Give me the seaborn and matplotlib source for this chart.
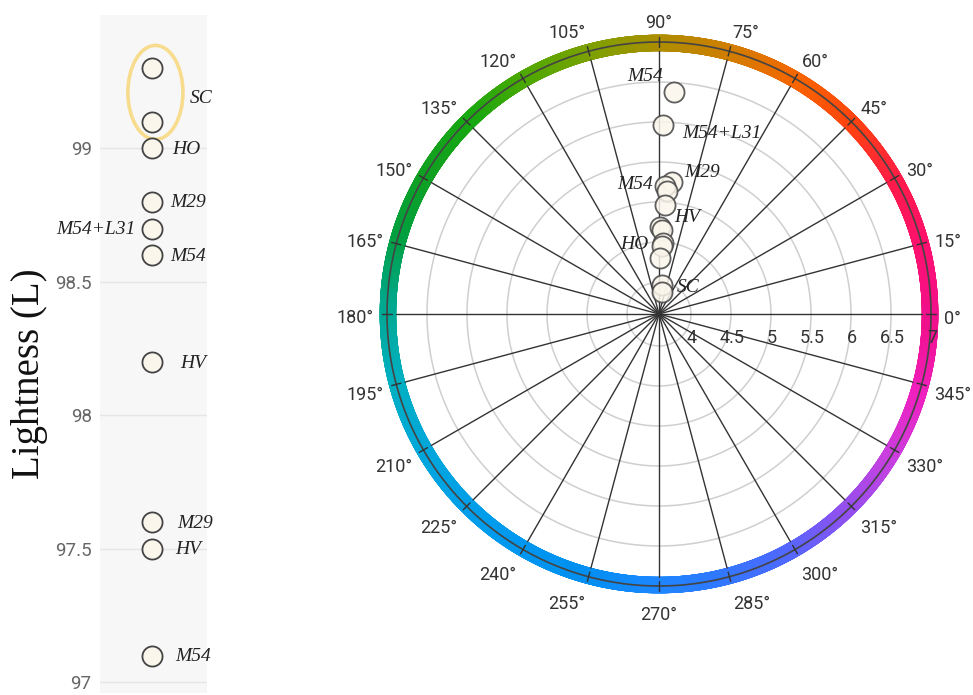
import numpy as np
import pandas as pd
import matplotlib
matplotlib.use("Agg")
import matplotlib.pyplot as plt
import seaborn as sns
from matplotlib.colors import LinearSegmentedColormap
from matplotlib.collections import LineCollection
from matplotlib.patches import Ellipse

# ---- Lightness (L) per sample ----
sample_names = ["SC", "SC", "HO", "M29", "M54+L31", "M54", "HV", "M29", "HV", "M54"]
lightness = [99.3, 99.1, 99.0, 98.8, 98.7, 98.6, 98.2, 97.6, 97.5, 97.1]
lightness_ticks = [97, 97.5, 98, 98.5, 99]
lightness_tick_labels = ["97", "97.5", "98", "98.5", "99"]

# ---- Hue angle (deg) and chroma per measurement ----
hue_angles = [86.1, 88.7, 84.5, 87.3, 86.5, 86.8, 89.3, 88.2, 86.5, 87.8, 89.0, 84.7, 83.0]
chroma = [6.385, 5.96, 5.26, 5.20, 5.14, 4.96, 4.69, 4.65, 4.49, 4.45, 4.30, 3.96, 3.88]
chroma_ticks = [4, 4.5, 5, 5.5, 6, 6.5, 7]
angle_ticks = list(range(0, 360, 15))

# hue wheel colour stops, one per 15 degrees
ring_colors = ["#f0108c", "#ff1070", "#ff1a4a", "#ff4010", "#f86400", "#d47c00",
               "#b08c00", "#80a000", "#50a800", "#18a810", "#10a020", "#00a040",
               "#00a890", "#00b0c0", "#00a8d8", "#00a0e8", "#0098f0", "#0090f0",
               "#1a88ff", "#3078ff", "#5068ff", "#9050f0", "#c840e0", "#f020c0",
               "#f0108c"]

sns.set_theme(style="white")
plt.rcParams["font.family"] = ["Roboto", "DejaVu Sans"]

W, H = 973, 695
fig = plt.figure(figsize=(W / 100, H / 100), dpi=100)

def frac(x0, y0, x1, y1):
    return [x0 / W, 1 - y1 / H, (x1 - x0) / W, (y1 - y0) / H]

label_font = dict(family=["Liberation Serif", "DejaVu Serif"], style="italic",
                  fontsize=14, color="#222222")
marker_kw = dict(s=210, color="#fbf6ec", edgecolor="#444444", linewidth=1.3,
                 legend=False, zorder=4)

# ================= Lightness strip =================
lax = fig.add_axes(frac(100, 15, 207, 693))
strip = pd.DataFrame({"sample": sample_names, "L": lightness, "x": 0.0})
sns.scatterplot(data=strip, x="x", y="L", ax=lax, **marker_kw)
lax.set_facecolor("#f7f7f7")
lax.set_xlim(-1, 1.06)
lax.set_ylim(96.96, 99.5)
lax.set_xticks([])
lax.set_yticks(lightness_ticks)
lax.set_yticklabels(lightness_tick_labels)
lax.tick_params(axis="y", length=0, labelsize=13.5, labelcolor="#666666", pad=6)
lax.grid(axis="y", color="#e6e6e6", linewidth=1)
lax.set_axisbelow(True)
lax.set_xlabel("")
lax.set_ylabel("")
for sp in lax.spines.values():
    sp.set_visible(False)

# label offsets (pixels) for each sample point
strip_offsets = [None, None, 20, 18, -16, 18, 28, 25, 23, 23]
for name, val, off in zip(sample_names, lightness, strip_offsets):
    if off is None:
        continue
    lax.annotate(name, xy=(0, val), xytext=(off, -1), textcoords="offset pixels",
                 ha="left" if off > 0 else "right", va="center", **label_font)
# the two SC points share one label and a highlight ellipse
sc_mid = (lightness[0] + lightness[1]) / 2
lax.annotate("SC", xy=(0, sc_mid), xytext=(38, -3), textcoords="offset pixels",
             ha="left", va="center", **label_font)
lax.add_patch(Ellipse((0.067, sc_mid + 0.01), 1.06, 0.352, fill=False,
                      edgecolor="#f7dc8e", linewidth=2.6, zorder=3))

fig.text(30 / W, 1 - 374 / H, "Lightness (L)", rotation=90, ha="center", va="center",
         family=["Liberation Serif", "DejaVu Serif"], fontsize=28, color="#111111")

# ================= Hue / chroma wheel =================
r_min, r_in, r_out, r_ring = 3.6, 6.8875, 7.0875, 7.0
pax = fig.add_axes(frac(380, 35, 938, 593), projection="polar")
pax.grid(False)
pax.spines["polar"].set_visible(False)
pax.set_yticks([])
pax.set_xticks([])

full = np.linspace(0, 2 * np.pi, 721)
cmap = LinearSegmentedColormap.from_list("hue", ring_colors)
r_mid = (r_in + r_out) / 2
pts = np.column_stack([full, np.full_like(full, r_mid)])
segs = np.stack([pts[:-1], pts[1:]], axis=1)
ring = LineCollection(segs, cmap=cmap, linewidths=11.8, capstyle="projecting",
                      transform=pax.transData, zorder=1, clip_on=False)
ring.set_array(np.degrees((full[:-1] + full[1:]) / 2))
ring.set_clim(0, 360)
pax.add_collection(ring)
pax.plot(full, np.full_like(full, r_ring), color="#444444", linewidth=1.2, zorder=2,
         clip_on=False)

for r in chroma_ticks[:-1]:
    pax.plot(full, np.full_like(full, r), color="#cfcfcf", linewidth=1.1, zorder=1)
for a in angle_ticks:
    t = np.radians(a)
    pax.plot([t, t], [r_min, r_in], color="#333333", linewidth=1.0, zorder=2)
    pax.plot([t, t], [r_ring - 0.06, r_ring + 0.06], color="#333333", linewidth=1.0,
             zorder=2, clip_on=False)
    # angle label just outside the ring: anchored on its near side,
    # lowered progressively toward the bottom of the wheel
    txt = f"{a}°"
    c, s = np.cos(t), np.sin(t)
    if c > 0.1:
        ha = "left"
    elif c < -0.1:
        ha = "right"
    else:
        ha = "center"
    off_x = 6 * c
    off_y = 6 * s - (1 - s) / 2 * 22 + 6.5
    pax.annotate(txt, xy=(t, r_out), xytext=(off_x, off_y),
                 textcoords="offset pixels", ha=ha, va="center",
                 fontsize=13, color="#333333", annotation_clip=False)

for r in chroma_ticks:
    pax.annotate(f"{r:g}", xy=(0, r), xytext=(1, -15), textcoords="offset pixels",
                 ha="center", va="top", fontsize=13, color="#333333", zorder=5)

wheel = pd.DataFrame({"theta": np.radians(hue_angles), "C": chroma})
sns.scatterplot(data=wheel, x="theta", y="C", ax=pax, alpha=0.85, **marker_kw)
pax.set_xlabel("")
pax.set_ylabel("")
pax.set_xticks([])
pax.set_ylim(r_min, r_out)

# (text, point index, offset in pixels, alignment)
wheel_labels = [("M54", 0, (-29, 15), "center"),
                ("M54+L31", 1, (19, -8), "left"),
                ("M29", 2, (13, 9), "left"),
                ("M54", 3, (-12, 2), "right"),
                ("HV", 6, (14, 9), "left"),
                ("HO", 8, (-15, -2), "right"),
                ("SC", 11, (15, -2), "left")]
for text, i, off, ha in wheel_labels:
    pax.annotate(text, xy=(np.radians(hue_angles[i]), chroma[i]), xytext=off,
                 textcoords="offset pixels", ha=ha, va="center", zorder=6, **label_font)

fig.savefig("out.png", dpi=100)
